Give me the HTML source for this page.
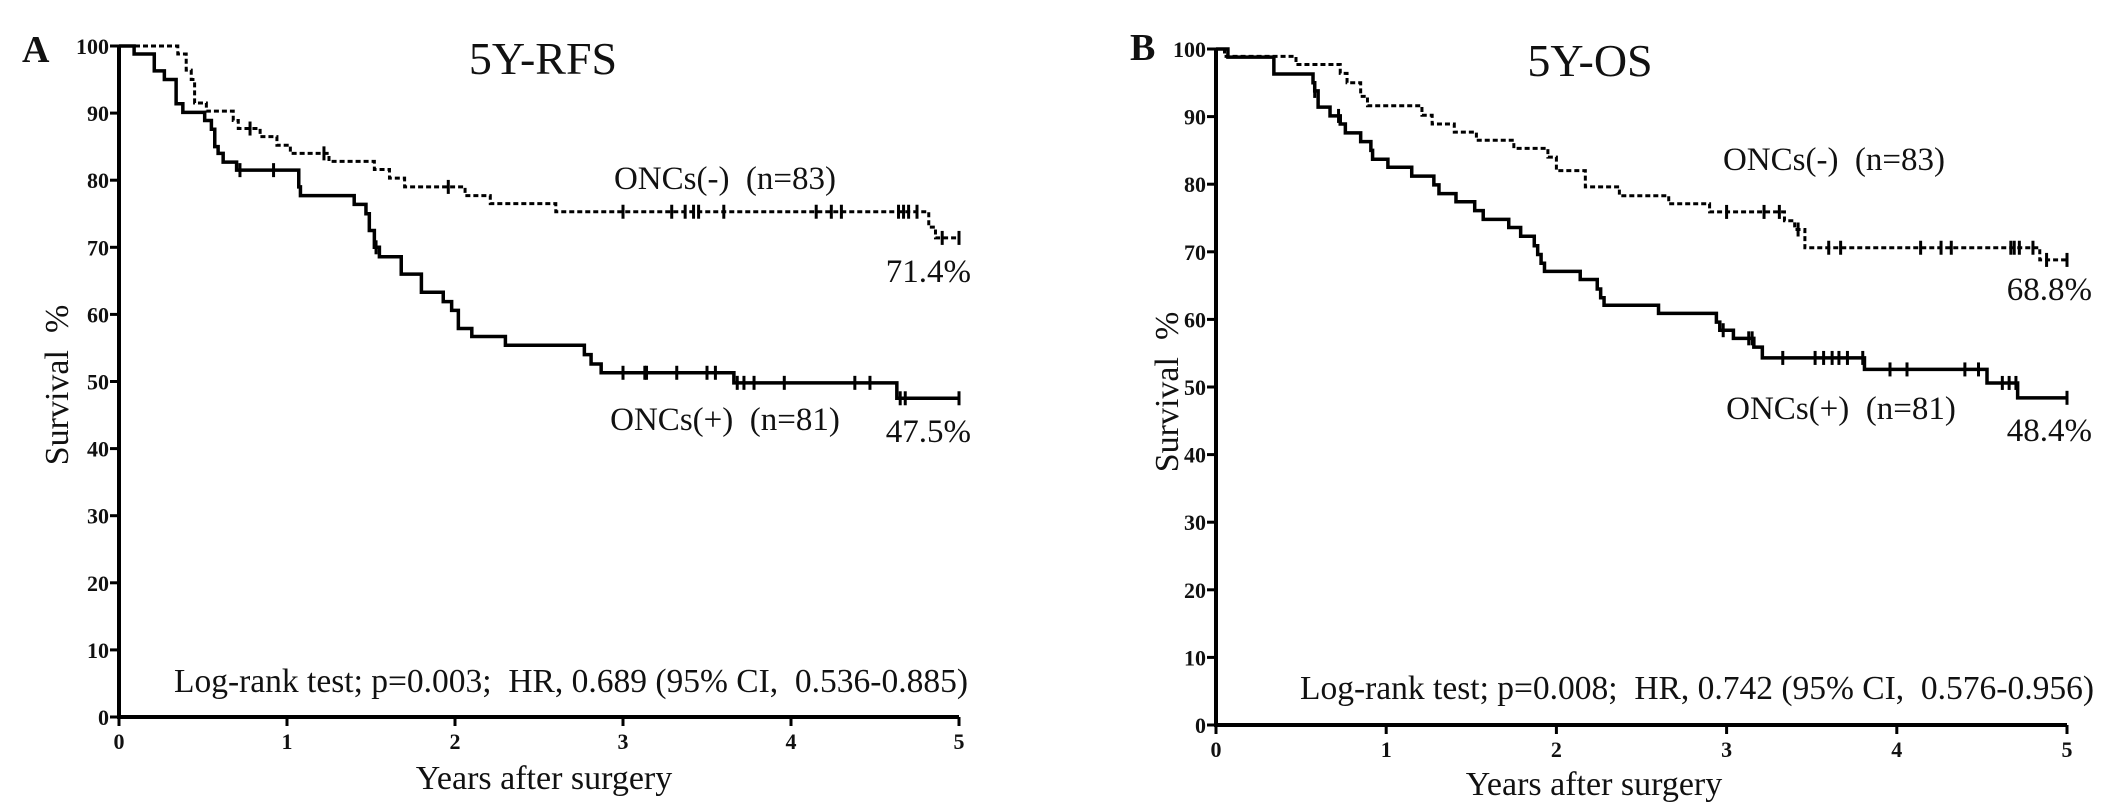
<!DOCTYPE html>
<html><head><meta charset="utf-8"><style>
html,body{margin:0;padding:0;background:#fff}
svg{display:block}
text{font-family:"Liberation Serif",serif;fill:#111}
.tick{font-weight:bold;font-size:22px}
</style></head><body>
<svg id="chart" width="2126" height="805" viewBox="0 0 2126 805"></svg>
<script>
// Panel A (5Y-RFS) data
const aNegTimes=[0,0.35,0.40,0.43,0.45,0.52,0.68,0.71,0.84,0.94,1.02,1.25,1.52,1.61,1.70,2.06,2.21,2.60,4.82,4.86,5.0];
const aNegSurv=[100,98.8,96.4,95,91.5,90.3,88.9,87.7,86.5,85.2,84,82.8,81.6,80.3,79.0,77.7,76.5,75.3,73,71.4,71.4];
const aNegCensor=[0.78,1.22,1.96,3.0,3.29,3.37,3.42,3.45,3.6,4.15,4.24,4.3,4.64,4.67,4.70,4.75,4.9,5.0];
const aPosTimes=[0,0.09,0.21,0.27,0.34,0.38,0.51,0.55,0.57,0.59,0.62,0.70,1.07,1.08,1.40,1.47,1.49,1.52,1.55,1.68,1.80,1.93,1.98,2.02,2.10,2.30,2.77,2.81,2.87,3.66,4.63,5.0];
const aPosSurv=[100,98.8,96.3,95,91.4,90.1,88.9,87.6,85,84,82.7,81.5,79,77.7,76.4,75,72.5,70,68.6,66,63.3,61.9,60.6,57.9,56.7,55.4,54,52.6,51.3,49.8,47.5,47.5];
const aPosCensor=[0.72,0.92,1.53,3.0,3.13,3.14,3.32,3.5,3.55,3.68,3.72,3.78,3.96,4.38,4.47,4.65,4.68,5.0];
// Panel B (5Y-OS) data
const bNegTimes=[0,0.05,0.47,0.73,0.77,0.85,0.89,1.21,1.27,1.40,1.53,1.75,1.95,2.0,2.17,2.37,2.66,2.90,3.34,3.40,3.46,4.84,5.0];
const bNegSurv=[100,98.9,97.7,96.4,95,93,91.6,90.2,88.9,87.7,86.5,85.3,84,82,79.6,78.3,77.1,75.9,74.6,73.3,70.6,68.8,68.8];
const bNegCensor=[3.0,3.22,3.31,3.42,3.6,3.67,4.14,4.26,4.32,4.67,4.69,4.72,4.8,4.88,5.0];
const bPosTimes=[0,0.07,0.34,0.57,0.58,0.60,0.67,0.73,0.76,0.85,0.91,0.92,1.01,1.15,1.28,1.31,1.41,1.52,1.57,1.72,1.79,1.87,1.89,1.91,1.93,2.14,2.24,2.26,2.28,2.60,2.94,2.96,3.04,3.16,3.21,3.81,4.53,4.71,5.0];
const bPosSurv=[100,98.8,96.3,95,93.8,91.4,90.1,88.9,87.6,86.3,85,83.7,82.5,81.2,79.9,78.6,77.4,76.1,74.8,73.6,72.3,70.9,69.6,68.3,67.1,65.9,64.5,63.2,62.1,60.9,59.6,58.4,57.2,55.9,54.3,52.6,50.6,48.4,48.4];
const bPosCensor=[0.58,0.72,2.98,3.13,3.15,3.33,3.52,3.57,3.62,3.66,3.71,3.80,3.96,4.06,4.40,4.48,4.62,4.66,4.70,5.0];
const yTickLabels=["0","10","20","30","40","50","60","70","80","90","100"];
const xTickLabels=["0","1","2","3","4","5"];

const NS="http://www.w3.org/2000/svg";
const svg=document.getElementById('chart');
function el(tag,attrs,parent){const e=document.createElementNS(NS,tag);for(const k in attrs)e.setAttribute(k,attrs[k]);(parent||svg).appendChild(e);return e;}
function txt(s,x,y,size,anchor,extra,parent){const t=el('text',Object.assign({x:x,y:y,'font-size':size,'text-anchor':anchor||'start'},extra||{}),parent);t.textContent=s;return t;}

function survAt(times,surv,t){let v=surv[0];for(let i=0;i<times.length;i++){if(times[i]<=t+1e-9)v=surv[i];}return v;}

function panel(cfg){
  const g=el('g',{});
  
  
  const X=t=>cfg.x0+(cfg.x5-cfg.x0)*t/5;
  const Y=v=>cfg.y0-(cfg.y0-cfg.y100)*v/100;
  const ax=el('path',{d:`M${X(0)},${Y(100)}V${Y(0)}H${X(5)}`,fill:'none',stroke:'#000','stroke-width':4},g);
  
  
  yTickLabels.forEach((lab,i)=>{
    const v=+lab;
    el('line',{x1:X(0)-9,x2:X(0),y1:Y(v),y2:Y(v),stroke:'#000','stroke-width':3},g);
    const t=txt(lab,X(0)-10,Y(v)+8,22,'end',{class:'tick'},g);
    
    
  });
  xTickLabels.forEach(lab=>{
    const v=+lab;
    el('line',{x1:X(v),x2:X(v),y1:Y(0),y2:Y(0)+9,stroke:'#000','stroke-width':3},g);
    const t=txt(lab,X(v),Y(0)+32,22,'middle',{class:'tick'},g);
    
    
  });
  function curve(times,surv,cens,dashed,nm){
    let d=`M${X(times[0])},${Y(surv[0])}`;
    for(let i=1;i<times.length;i++){d+=`H${X(times[i])}V${Y(surv[i])}`;}
    const p=el('path',{d:d,fill:'none',stroke:'#000','stroke-width':dashed?3:3.5,'stroke-dasharray':dashed?'5 3':'none'},g);
    
    
    cens.forEach(t=>{
      const v=survAt(times,surv,t);
      const c=el('line',{x1:X(t),x2:X(t),y1:Y(v)-7,y2:Y(v)+7,stroke:'#000','stroke-width':3},g);
      
      
    });
  }
  curve(cfg.negT,cfg.negS,cfg.negC,true,'oncs-negative');
  curve(cfg.posT,cfg.posS,cfg.posC,false,'oncs-positive');
}

panel({name:'panel-a',x0:119,x5:959,y0:717,y100:46,negT:aNegTimes,negS:aNegSurv,negC:aNegCensor,posT:aPosTimes,posS:aPosSurv,posC:aPosCensor});
panel({name:'panel-b',x0:1216,x5:2067,y0:725,y100:49,negT:bNegTimes,negS:bNegSurv,negC:bNegCensor,posT:bPosTimes,posS:bPosSurv,posC:bPosCensor});
</script>
<svg width="2126" height="805" style="position:absolute;left:0;top:0">
  <text x="22" y="62" font-size="38" font-weight="bold">A</text>
  <text x="543" y="74" font-size="46" text-anchor="middle">5Y-RFS</text>
  <text x="725" y="189" font-size="33" text-anchor="middle" xml:space="preserve">ONCs(-)  (n=83)</text>
  <text x="971" y="282" font-size="33" text-anchor="end">71.4%</text>
  <text x="725" y="430" font-size="33" text-anchor="middle" xml:space="preserve">ONCs(+)  (n=81)</text>
  <text x="971" y="442" font-size="33" text-anchor="end">47.5%</text>
  <text x="968" y="692" font-size="33.5" text-anchor="end" xml:space="preserve">Log-rank test; p=0.003;  HR, 0.689 (95% CI,  0.536-0.885)</text>
  <text transform="translate(68,385) rotate(-90)" font-size="34" text-anchor="middle" xml:space="preserve">Survival  %</text>
  <text x="544" y="789" font-size="34" text-anchor="middle">Years after surgery</text>

  <text x="1130" y="60" font-size="38" font-weight="bold">B</text>
  <text x="1590" y="76" font-size="46" text-anchor="middle">5Y-OS</text>
  <text x="1834" y="170" font-size="33" text-anchor="middle" xml:space="preserve">ONCs(-)  (n=83)</text>
  <text x="2092" y="300" font-size="33" text-anchor="end">68.8%</text>
  <text x="1841" y="419" font-size="33" text-anchor="middle" xml:space="preserve">ONCs(+)  (n=81)</text>
  <text x="2092" y="441" font-size="33" text-anchor="end">48.4%</text>
  <text x="2094" y="699" font-size="33.5" text-anchor="end" xml:space="preserve">Log-rank test; p=0.008;  HR, 0.742 (95% CI,  0.576-0.956)</text>
  <text transform="translate(1178,392) rotate(-90)" font-size="34" text-anchor="middle" xml:space="preserve">Survival  %</text>
  <text x="1594" y="795" font-size="34" text-anchor="middle">Years after surgery</text>
</svg>
</body></html>
